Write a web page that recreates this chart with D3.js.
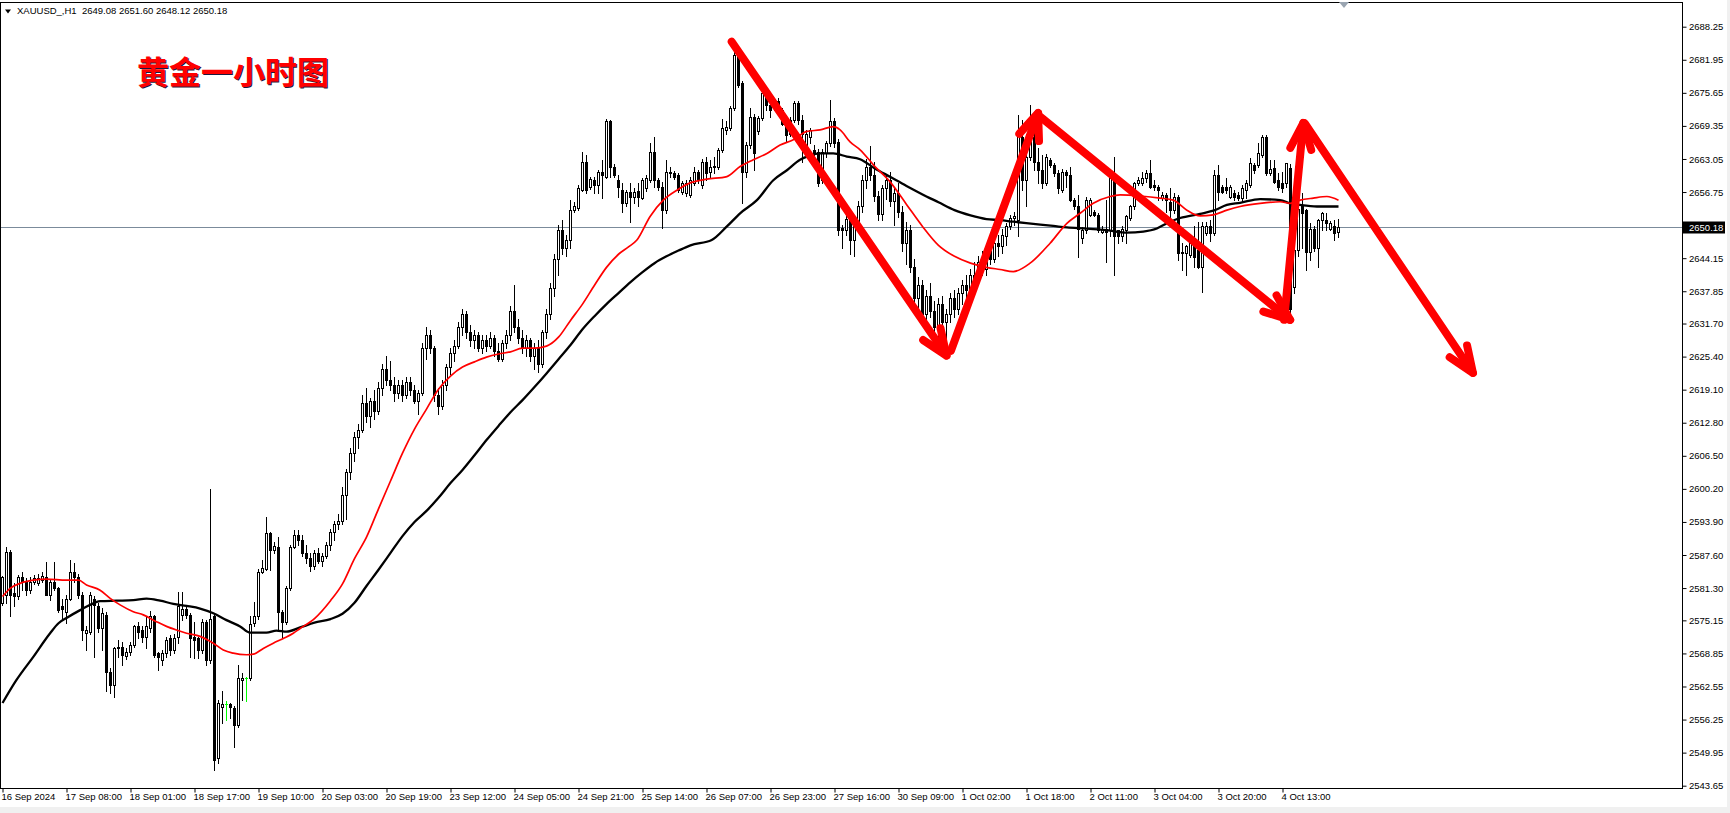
<!DOCTYPE html>
<html><head><meta charset="utf-8">
<script src="https://cdn.jsdelivr.net/npm/d3@7"></script>
<style>
html,body{margin:0;padding:0;background:#fff;overflow:hidden}
svg{display:block}
text{font-family:"Liberation Sans",Arial,sans-serif}
</style></head><body>
<svg id="chart" width="1730" height="813"></svg>
<script>
// ---------------- DATA ----------------
const symbolInfo = "XAUUSD_,H1";
const lastQuote = [2649.08, 2651.60, 2648.12, 2650.18];
const chartTitle = "黄金一小时图";
// [open, high, low, close] per H1 bar
const ohlc = [
[2578.4,2583.6,2578.0,2583.5],[2580.0,2589.2,2578.4,2588.2],[2588.2,2588.6,2575.9,2580.0],[2580.3,2582.2,2577.8,2579.7],
[2579.7,2583.8,2579.3,2583.5],[2583.5,2584.4,2580.9,2582.5],[2582.5,2583.2,2580.0,2580.9],[2580.9,2583.5,2580.3,2582.5],
[2582.5,2583.8,2582.0,2583.2],[2582.2,2584.0,2581.9,2583.2],[2582.8,2584.4,2582.5,2583.6],[2583.5,2586.3,2579.9,2580.0],
[2580.0,2583.0,2579.0,2582.5],[2582.5,2586.3,2580.9,2581.3],[2581.3,2581.6,2576.8,2577.1],[2577.8,2579.3,2575.2,2577.4],
[2576.8,2580.0,2574.6,2579.3],[2579.3,2586.6,2579.0,2584.4],[2584.4,2586.0,2582.5,2583.5],[2583.5,2584.0,2579.5,2580.0],
[2580.0,2580.5,2571.4,2573.3],[2572.7,2574.0,2569.5,2573.3],[2573.0,2580.5,2572.5,2580.0],[2579.3,2579.7,2568.2,2578.1],
[2577.8,2578.5,2572.9,2573.6],[2573.6,2577.5,2569.5,2576.5],[2576.2,2576.8,2561.6,2565.4],[2565.4,2566.0,2561.3,2562.8],
[2562.8,2570.1,2560.6,2569.8],[2570.1,2571.4,2568.2,2569.8],[2570.1,2571.1,2566.6,2568.5],[2568.4,2569.8,2567.8,2569.2],
[2569.2,2571.1,2568.5,2570.5],[2570.5,2574.3,2570.1,2574.1],[2574.0,2574.9,2571.7,2573.0],[2573.3,2574.0,2571.0,2572.0],
[2572.0,2575.9,2569.8,2574.0],[2573.6,2577.0,2573.0,2575.9],[2575.9,2576.2,2568.2,2568.6],[2568.9,2569.2,2565.7,2568.2],
[2567.6,2569.5,2566.6,2568.9],[2568.9,2572.0,2568.2,2571.4],[2571.7,2572.3,2568.5,2569.5],[2569.5,2572.5,2568.9,2571.7],
[2572.0,2580.6,2570.8,2577.8],[2576.2,2580.6,2575.2,2577.4],[2577.4,2578.0,2575.6,2576.2],[2576.2,2576.5,2568.2,2571.7],
[2572.0,2574.9,2567.9,2571.4],[2571.7,2572.0,2567.9,2569.5],[2569.5,2575.5,2569.0,2574.9],[2574.9,2575.2,2566.6,2567.6],
[2567.6,2600.2,2567.0,2575.5],[2575.9,2576.5,2546.6,2548.6],[2548.9,2560.0,2548.0,2559.4],[2558.7,2561.6,2555.5,2559.2],
[2559.3,2559.7,2556.2,2559.3],[2559.2,2559.4,2556.5,2558.6],[2558.4,2558.8,2551.1,2555.2],[2555.2,2566.7,2554.8,2564.1],
[2563.8,2565.1,2560.0,2564.2],[2564.1,2564.3,2559.7,2564.1],[2564.1,2575.9,2563.8,2574.5],[2574.6,2578.7,2574.0,2575.9],
[2575.9,2585.0,2575.5,2584.4],[2584.4,2586.7,2584.1,2585.1],[2585.0,2594.9,2584.7,2591.7],[2591.7,2592.0,2584.8,2588.6],
[2588.6,2590.0,2588.0,2589.3],[2589.2,2591.1,2573.3,2576.8],[2576.8,2577.2,2571.7,2574.9],[2574.9,2581.7,2574.5,2581.3],
[2581.3,2589.6,2580.9,2589.2],[2589.2,2592.4,2588.9,2591.4],[2591.4,2592.4,2589.5,2590.5],
[2590.5,2591.5,2587.5,2588.0],[2588.0,2589.5,2586.0,2587.0],[2587.0,2588.0,2584.5,2585.5],[2585.5,2588.5,2585.0,2588.0],
[2588.0,2589.0,2586.0,2586.5],[2586.5,2588.0,2585.5,2587.5],[2587.5,2590.0,2587.0,2589.5],[2589.5,2592.5,2588.5,2592.0],
[2592.0,2594.0,2590.5,2593.5],[2593.5,2595.5,2592.5,2594.0],[2594.0,2600.5,2593.5,2599.0],[2599.0,2604.0,2594.5,2603.5],
[2603.5,2608.0,2602.0,2607.0],[2607.0,2611.0,2605.5,2610.0],[2610.0,2612.5,2608.0,2611.5],[2611.5,2618.0,2611.0,2616.5],
[2616.5,2619.5,2613.0,2614.0],[2614.0,2617.5,2612.0,2617.0],[2617.0,2619.0,2613.5,2615.0],[2615.0,2620.5,2614.5,2619.5],
[2619.5,2624.0,2618.0,2623.0],[2623.0,2625.5,2620.0,2621.0],[2621.0,2624.5,2619.0,2620.0],[2620.0,2621.5,2617.0,2618.5],
[2618.5,2621.0,2617.5,2620.0],[2620.0,2621.0,2617.0,2618.0],[2618.0,2621.5,2617.5,2620.5],[2620.5,2621.5,2618.0,2619.0],
[2619.0,2620.0,2616.5,2617.0],[2617.0,2619.0,2614.5,2618.5],[2618.5,2628.0,2618.0,2627.0],[2627.0,2631.0,2625.0,2629.5],
[2629.5,2630.5,2626.0,2627.0],[2627.0,2627.5,2617.0,2618.0],[2618.0,2619.5,2614.5,2616.0],[2616.0,2621.0,2615.5,2620.0],
[2620.0,2624.0,2619.0,2623.5],[2623.5,2627.0,2622.0,2626.0],[2626.0,2628.5,2624.5,2627.5],[2627.5,2632.0,2627.0,2631.0],
[2631.0,2634.5,2629.5,2633.5],[2633.5,2634.0,2629.0,2630.0],[2630.0,2631.5,2627.5,2628.5],[2628.5,2630.5,2627.0,2629.5],
[2629.5,2630.0,2626.5,2627.0],[2627.0,2629.5,2626.0,2628.5],[2628.5,2629.5,2626.5,2627.5],[2627.5,2630.0,2627.0,2629.0],
[2629.0,2629.5,2625.5,2626.5],[2626.5,2628.0,2624.5,2625.0],[2625.0,2628.5,2624.5,2628.0],[2628.0,2630.5,2627.0,2629.5],
[2629.5,2635.0,2628.5,2634.0],[2634.0,2639.0,2630.0,2631.0],[2631.0,2632.5,2628.0,2629.0],[2629.0,2630.5,2626.0,2627.0],
[2627.0,2629.5,2625.5,2628.5],[2628.5,2629.0,2624.5,2625.5],[2625.5,2628.0,2623.0,2627.0],[2627.0,2628.5,2622.5,2624.0],
[2624.0,2630.5,2623.5,2630.0],[2630.0,2634.5,2629.0,2633.5],[2633.5,2639.5,2632.5,2638.5],[2638.5,2645.0,2637.0,2644.0],
[2644.0,2650.5,2641.0,2649.5],[2649.5,2651.5,2645.0,2646.0],[2646.0,2648.5,2644.5,2647.6],
[2647.6,2655.2,2646.0,2653.3],[2653.3,2654.9,2653.0,2654.0],[2653.7,2658.0,2653.4,2657.5],[2657.2,2664.4,2656.9,2662.5],
[2662.5,2663.8,2656.5,2657.2],[2657.8,2659.6,2657.4,2659.2],[2659.0,2659.7,2656.5,2658.1],[2658.1,2661.0,2656.5,2660.6],
[2660.6,2662.9,2655.6,2660.0],[2659.7,2670.7,2659.4,2670.2],[2670.2,2670.5,2659.7,2661.6],[2661.6,2662.0,2659.7,2660.0],
[2659.0,2660.0,2655.9,2657.8],[2657.2,2658.4,2653.0,2654.6],[2654.6,2657.2,2654.0,2656.8],[2656.8,2658.4,2651.1,2655.9],
[2655.9,2657.5,2654.6,2656.8],[2657.0,2658.4,2654.0,2655.9],[2655.7,2659.4,2655.4,2659.0],[2657.5,2660.0,2657.0,2659.4],
[2659.0,2666.0,2658.7,2664.4],[2664.4,2667.3,2657.8,2659.0],[2659.0,2659.4,2657.2,2657.8],[2657.8,2658.7,2649.9,2653.3],
[2653.3,2662.9,2652.8,2660.6],[2660.6,2661.6,2659.7,2660.3],[2660.3,2660.8,2659.2,2659.7],[2660.0,2660.3,2656.8,2657.2],
[2656.8,2658.9,2656.3,2658.4],[2656.5,2659.0,2656.0,2658.4],[2656.2,2659.6,2655.8,2659.0],[2658.4,2661.6,2658.0,2660.6],
[2660.6,2661.0,2658.5,2659.0],[2658.1,2663.0,2657.6,2662.5],[2662.5,2663.5,2659.0,2660.3],[2660.6,2662.9,2659.7,2661.6],
[2661.5,2663.5,2660.3,2661.8],[2661.6,2665.1,2661.2,2664.8],[2664.8,2670.6,2664.4,2668.9],[2668.6,2670.2,2667.9,2669.2],
[2668.9,2673.2,2668.5,2672.7],[2672.7,2684.1,2672.3,2682.9],[2682.9,2683.5,2676.8,2677.2],[2677.5,2678.0,2654.6,2660.6],
[2660.6,2666.3,2659.6,2665.7],[2665.7,2672.7,2665.2,2671.1],[2671.1,2671.7,2661.0,2664.1],[2668.3,2671.3,2667.9,2670.8],
[2670.8,2677.8,2670.4,2675.6],[2675.2,2676.2,2672.4,2673.3],[2673.3,2674.3,2671.1,2672.4],[2672.7,2674.6,2672.4,2674.0],
[2674.0,2674.6,2672.0,2672.4],[2672.4,2672.7,2669.5,2669.8],[2670.5,2670.8,2666.4,2667.6],[2667.9,2671.0,2667.5,2670.5],
[2670.5,2674.0,2670.0,2673.7],[2673.7,2674.0,2669.8,2670.5],[2670.5,2671.4,2662.5,2667.9],[2665.4,2668.5,2664.8,2667.9],
[2667.3,2669.0,2666.0,2668.6],[2664.8,2665.7,2662.2,2664.1],[2664.4,2665.0,2657.9,2658.4],[2659.0,2665.0,2658.5,2664.4],
[2664.1,2666.5,2663.5,2666.0],[2666.0,2674.3,2665.5,2670.2],[2670.2,2670.8,2665.4,2666.0],[2666.3,2666.8,2648.5,2649.5],
[2649.9,2650.5,2646.0,2649.5],[2649.5,2652.5,2648.5,2651.7],[2651.7,2652.0,2645.0,2647.6],
[2647.6,2651.0,2644.5,2650.5],[2650.5,2655.0,2649.5,2654.0],[2654.0,2660.0,2653.0,2659.0],[2659.0,2663.0,2657.5,2661.5],
[2661.5,2665.5,2659.0,2660.0],[2660.0,2662.5,2655.0,2656.0],[2656.0,2657.0,2651.5,2652.5],[2652.5,2658.0,2651.5,2657.5],
[2657.5,2660.0,2655.5,2659.0],[2659.0,2660.5,2654.0,2655.0],[2655.0,2657.5,2650.5,2656.5],[2656.5,2658.5,2652.0,2653.0],
[2653.0,2654.0,2645.5,2647.0],[2647.0,2651.0,2643.0,2649.5],[2649.5,2650.5,2641.5,2642.5],[2642.5,2644.0,2634.0,2636.5],
[2636.5,2640.5,2634.5,2639.0],[2639.0,2640.0,2632.0,2633.5],[2633.5,2638.0,2631.0,2637.0],[2637.0,2639.5,2633.0,2634.0],
[2634.0,2636.0,2629.5,2631.0],[2631.0,2636.5,2629.0,2635.5],[2635.5,2637.0,2630.5,2632.0],[2632.0,2634.5,2629.0,2633.5],
[2633.5,2637.5,2632.0,2636.5],[2636.5,2638.0,2633.0,2634.5],[2634.5,2638.5,2633.5,2637.5],[2637.5,2640.0,2635.5,2639.0],
[2639.0,2641.0,2636.5,2638.0],[2638.0,2642.0,2637.0,2641.0],[2641.0,2643.5,2639.0,2640.0],[2640.0,2644.5,2639.0,2643.5],
[2643.5,2645.5,2641.0,2642.0],[2642.0,2646.5,2641.0,2645.5],[2645.5,2647.0,2643.0,2644.0],[2644.0,2648.0,2643.5,2647.0],
[2647.0,2648.5,2644.5,2646.5],
[2646.4,2649.8,2645.1,2648.6],[2648.3,2650.8,2646.7,2650.2],[2650.2,2652.4,2649.8,2651.8],[2651.8,2653.0,2650.5,2652.1],
[2651.4,2671.4,2648.3,2668.3],[2667.3,2670.5,2657.1,2659.0],[2659.0,2667.9,2654.0,2663.5],[2663.5,2673.3,2662.9,2667.9],
[2667.3,2670.8,2660.9,2662.5],[2662.5,2665.1,2658.4,2660.9],[2660.9,2663.8,2657.5,2658.4],[2658.4,2664.0,2658.0,2663.5],
[2662.9,2663.2,2661.6,2661.9],[2661.9,2662.2,2659.8,2660.3],[2660.3,2660.9,2656.5,2657.5],[2657.1,2661.2,2656.8,2660.6],
[2660.6,2660.9,2657.8,2660.0],[2660.0,2661.6,2655.0,2655.2],[2655.2,2655.6,2653.5,2654.0],[2654.0,2656.2,2644.4,2649.8],
[2647.9,2650.0,2647.0,2649.5],[2649.5,2655.8,2649.0,2655.2],[2652.4,2655.6,2652.1,2655.2],[2653.0,2653.3,2652.1,2652.4],
[2652.4,2652.7,2649.2,2649.5],[2649.2,2650.2,2648.9,2649.8],[2649.8,2655.2,2643.5,2649.2],[2649.5,2659.6,2648.3,2659.4],
[2659.0,2663.5,2640.9,2648.3],[2649.5,2649.6,2647.0,2648.3],[2648.3,2650.2,2647.5,2649.8],[2649.5,2652.4,2647.0,2652.1],
[2651.8,2654.3,2651.4,2654.0],[2654.0,2658.7,2653.5,2658.4],[2658.4,2659.6,2658.0,2659.0],[2658.4,2660.6,2658.1,2659.4],
[2659.4,2660.9,2658.7,2660.3],[2660.3,2662.9,2657.6,2657.8],[2658.1,2659.0,2657.1,2657.8],[2657.8,2658.1,2655.2,2657.1],
[2655.6,2656.8,2655.2,2656.2],[2656.2,2656.5,2653.0,2655.2],[2654.9,2657.5,2650.8,2653.3],[2653.3,2656.5,2652.7,2655.9],
[2655.9,2656.2,2643.8,2645.1],[2645.4,2647.0,2641.9,2645.1],[2645.1,2646.7,2640.9,2646.4],[2644.8,2647.5,2644.4,2647.0],
[2647.0,2650.2,2642.5,2644.4],[2645.7,2651.1,2642.2,2642.5],[2642.5,2651.1,2637.8,2650.2],[2648.9,2651.0,2648.5,2650.2],
[2650.2,2651.5,2647.5,2649.0],[2648.9,2661.0,2648.5,2660.0],[2660.0,2661.9,2655.2,2656.8],[2657.8,2658.1,2656.5,2656.8],
[2657.8,2659.4,2656.5,2657.1],[2655.9,2658.1,2655.6,2657.8],[2656.5,2657.1,2655.2,2655.9],[2656.2,2656.8,2655.2,2655.6],
[2655.6,2658.0,2655.0,2657.5],[2657.2,2659.0,2655.6,2658.4],[2658.1,2663.2,2657.8,2662.2],[2661.9,2662.2,2660.3,2661.0],
[2661.9,2666.0,2661.5,2664.1],[2663.8,2667.7,2663.5,2667.3],[2667.3,2667.6,2660.0,2660.3],[2660.3,2662.9,2660.0,2661.1],
[2661.3,2662.9,2658.5,2658.7],[2659.0,2660.3,2657.2,2657.8],[2658.4,2660.6,2656.8,2657.5],[2658.4,2662.3,2657.8,2662.2],
[2661.3,2662.0,2632.5,2634.5],[2638.7,2646.5,2637.5,2645.7],[2645.7,2655.0,2644.5,2653.5],[2654.3,2656.5,2646.0,2652.7],
[2653.3,2653.5,2641.9,2645.4],[2645.4,2650.8,2643.8,2649.8],[2649.8,2650.2,2645.5,2646.0],[2646.0,2651.7,2642.5,2651.4],
[2651.4,2653.0,2649.5,2652.7],[2651.4,2652.7,2649.5,2650.8],[2649.8,2651.2,2649.5,2650.8],[2650.2,2651.4,2647.6,2648.9],
[2649.08,2651.60,2648.12,2650.18]
];
// moving averages: [bar index, price]
const maRed = [
[0,2579.7],[2,2581.3],[4.4,2582.2],[7.7,2582.8],[11,2583.0],[16,2582.8],[19,2582.8],[21,2581.9],[24.4,2580.9],[27,2579.3],
[29.4,2578.1],[32.7,2576.8],[35.2,2576.2],[38.5,2574.9],[41,2574.0],[43.5,2573.3],[46,2572.7],[49.4,2572.1],[52.7,2570.8],
[55.2,2569.5],[57.7,2568.9],[61,2568.6],[62.7,2568.7],[65.2,2569.8],[67.7,2570.8],[70.2,2571.7],[72.7,2572.7],[74.4,2573.6],
[78,2575.5],[82,2578.9],[85,2582.1],[88,2586.9],[91,2591.0],[94,2596.4],[97,2601.7],[100,2607.0],[103,2611.6],[106,2615.4],
[109,2619.2],[112,2621.7],[115,2623.4],[118,2624.4],[121,2625.3],[124,2625.9],[127,2626.3],[130,2627.0],[133,2627.0],
[136,2627.4],[139,2629.1],[142,2632.3],[145,2635.4],[148,2639.0],[151,2642.4],[154,2644.9],[156.5,2646.3],[158.6,2647.6],
[161.9,2652.1],[165.2,2655.2],[168.6,2657.1],[171.9,2658.5],[176.1,2659.2],[181.1,2659.7],[184.4,2661.6],[187.7,2662.9],
[191.1,2664.1],[194.4,2665.7],[197.7,2666.7],[201.1,2668.3],[204.4,2668.6],[207.7,2669.2],[209.4,2668.6],[211.9,2666.3],
[214.4,2664.8],[218,2661.7],[222,2658.6],[226,2654.4],[230,2650.2],[234,2646.6],[238,2644.5],[242,2643.2],[246,2642.4],
[249.4,2642.0],[252.7,2641.6],[256.9,2643.2],[261.9,2647.0],[266.1,2650.8],[269.4,2652.7],[272.7,2654.6],[276.9,2655.9],
[279.4,2656.2],[284.4,2656.0],[289.4,2655.6],[292.7,2655.2],[296.1,2653.3],[299.4,2652.2],[302.7,2652.4],[306.1,2653.3],
[309.4,2654.0],[314.4,2654.6],[319.4,2654.9],[321.9,2654.6],[324.4,2655.2],[327.7,2655.6],[331.1,2655.9],[334,2655.2]
];
const maBlack = [
[0,2559.4],[3.5,2563.8],[7.7,2568.2],[11.9,2572.7],[14,2574.6],[16,2575.6],[19.4,2577.1],[21.9,2578.1],[24.4,2578.8],
[28.5,2578.9],[32.7,2579.0],[36,2579.3],[39.4,2578.9],[42.7,2578.3],[46,2577.9],[49.4,2577.4],[52.7,2576.5],[56,2575.2],
[59.4,2574.0],[61.9,2572.8],[66,2572.8],[68.5,2573.2],[71,2573.0],[74.4,2573.8],[78,2574.7],[82,2575.4],[85,2576.4],
[88,2578.5],[91,2581.7],[94,2584.8],[97,2588.0],[100,2591.2],[103,2593.9],[106,2596.0],[109,2598.5],[112,2601.3],
[115,2603.8],[118,2606.6],[121,2609.5],[124,2612.2],[127,2614.8],[130,2617.1],[133,2619.6],[136,2622.2],[139,2624.9],
[142,2627.6],[145,2630.6],[148,2633.1],[151,2635.4],[154,2637.5],[157,2639.6],[160,2641.5],[163,2643.2],[166,2644.5],
[169,2645.6],[172,2646.6],[177.3,2647.6],[181.1,2650.2],[184.4,2652.7],[188.6,2655.2],[192.7,2659.0],[196.1,2660.9],
[199.4,2662.9],[201.1,2663.5],[204.4,2664.1],[207.7,2664.1],[211.1,2663.5],[214.4,2663.0],[218,2661.3],[222,2659.6],
[226,2657.9],[230,2656.3],[234,2654.8],[238,2653.3],[242,2652.3],[246,2651.6],[249.4,2651.4],[252.7,2651.1],[257.7,2650.7],
[262.7,2650.3],[266.1,2650.0],[271.1,2649.8],[276.1,2649.5],[281.1,2649.0],[285.2,2649.2],[288.6,2649.8],[291.1,2650.8],
[294.4,2651.8],[299.4,2652.6],[302.7,2653.2],[306.1,2654.3],[309.4,2654.7],[314.4,2655.4],[319.4,2655.2],[321.9,2654.6],
[324.4,2654.3],[328.6,2654.0],[334,2654.0]
];
const yTicks = [2688.25,2681.95,2675.65,2669.35,2663.05,2656.75,2644.15,2637.85,2631.70,2625.40,2619.10,2612.80,
  2606.50,2600.20,2593.90,2587.60,2581.30,2575.15,2568.85,2562.55,2556.25,2549.95,2543.65];
const xTickLabels = ["16 Sep 2024","17 Sep 08:00","18 Sep 01:00","18 Sep 17:00","19 Sep 10:00","20 Sep 03:00",
  "20 Sep 19:00","23 Sep 12:00","24 Sep 05:00","24 Sep 21:00","25 Sep 14:00","26 Sep 07:00","26 Sep 23:00",
  "27 Sep 16:00","30 Sep 09:00","1 Oct 02:00","1 Oct 18:00","2 Oct 11:00","3 Oct 04:00","3 Oct 20:00","4 Oct 13:00"];
const barsPerLabel = 16;
// hand-drawn arrows: [bar, price] -> [bar, price]
const arrows = [
  [[182.3,2685.4],[236.0,2625.6]],
  [[237.1,2626.5],[258.9,2671.8]],
  [[259.4,2671.1],[321.9,2632.4]],
  [[320.4,2632.4],[325.2,2669.9]],
  [[325.6,2669.8],[367.6,2622.3]]
];

// ---------------- DRAW ----------------
const W = 1730, H = 813;
const PL = 0.5, PT = 2.5, PR = 1682.5, PB = 788.5;
const svg = d3.select("#chart");
svg.append("rect").attr("width", W).attr("height", H).attr("fill", "#fff");
svg.append("rect").attr("x", 0).attr("y", 807).attr("width", W).attr("height", H - 807).attr("fill", "#f0f0f0");
svg.append("rect").attr("x", 1727).attr("y", 0).attr("width", W - 1727).attr("height", H).attr("fill", "#f0f0f0");

const x = d3.scaleLinear().domain([0, 1]).range([2.5, 6.5]);
const y = d3.scaleLinear().domain([2543.65, 2688.25]).range([785.7, 26.7]);
const yr = v => Math.round(y(v)) + 0.5;

svg.append("defs").append("clipPath").attr("id", "clip")
  .append("rect").attr("x", PL).attr("y", PT).attr("width", PR - PL).attr("height", PB - PT);
const g = svg.append("g").attr("clip-path", "url(#clip)");

// current price line
const lastC = lastQuote[3];
g.append("line").attr("x1", 0).attr("x2", PR).attr("y1", yr(lastC)).attr("y2", yr(lastC))
  .attr("stroke", "#7b8b9b").attr("stroke-width", 1);

// candles
const cg = g.append("g");
ohlc.forEach((d, i) => {
  const [o, h, l, c] = d;
  const cx = x(i);
  const doji = o === c;
  const col = doji ? "#00ff00" : "#000";
  cg.append("line").attr("x1", cx).attr("x2", cx).attr("y1", yr(h) - 0.5).attr("y2", yr(l) + 0.5)
    .attr("stroke", col).attr("stroke-width", 1);
  if (doji) {
    cg.append("line").attr("x1", cx - 1.5).attr("x2", cx + 1.5).attr("y1", yr(o)).attr("y2", yr(o))
      .attr("stroke", col).attr("stroke-width", 1);
  } else {
    const top = yr(Math.max(o, c)), bot = yr(Math.min(o, c));
    cg.append("rect").attr("x", cx - 1).attr("y", top).attr("width", 2).attr("height", Math.max(0, bot - top))
      .attr("fill", c > o ? "#fff" : "#000").attr("stroke", "#000").attr("stroke-width", 1);
  }
});

// moving averages
const line = d3.line().x(d => x(d[0])).y(d => y(d[1])).curve(d3.curveMonotoneX);
g.append("path").attr("d", line(maBlack)).attr("fill", "none").attr("stroke", "#000").attr("stroke-width", 2.3);
g.append("path").attr("d", line(maRed)).attr("fill", "none").attr("stroke", "#ff0000").attr("stroke-width", 1.7);

// arrows
const ag = g.append("g").attr("stroke", "#ff0000").attr("stroke-width", 8).attr("fill", "none")
  .attr("stroke-linecap", "round").attr("stroke-linejoin", "round");
arrows.forEach(([s, e]) => {
  const x1 = x(s[0]), y1 = y(s[1]), x2 = x(e[0]), y2 = y(e[1]);
  const ang = Math.atan2(y1 - y2, x1 - x2);
  const L = 28, a = 22 * Math.PI / 180;
  const p1 = [x2 + L * Math.cos(ang + a), y2 + L * Math.sin(ang + a)];
  const p2 = [x2 + L * Math.cos(ang - a), y2 + L * Math.sin(ang - a)];
  ag.append("path").attr("d", `M${x1},${y1}L${x2},${y2}`);
  ag.append("path").attr("d", `M${p1[0]},${p1[1]}L${x2},${y2}L${p2[0]},${p2[1]}`);
});

// frame
svg.append("rect").attr("x", PL).attr("y", PT).attr("width", PR - PL).attr("height", PB - PT)
  .attr("fill", "none").attr("stroke", "#000").attr("stroke-width", 1);

// y axis
const yAxis = d3.axisRight(y).tickValues(yTicks).tickFormat(d3.format(".2f")).tickSize(4).tickSizeOuter(0);
const ya = svg.append("g").attr("transform", `translate(${PR},0)`).call(yAxis);
ya.select(".domain").remove();
ya.selectAll("line").attr("stroke", "#000");
ya.selectAll("text").attr("x", 6.5).attr("fill", "#000").style("font-size", "9.5px")
  .style("font-family", "'Liberation Sans', Arial, sans-serif");

// current price label
svg.append("rect").attr("x", PR + 0.5).attr("y", yr(lastC) - 6).attr("width", 42).attr("height", 12).attr("fill", "#000");
svg.append("text").attr("x", PR + 6.5).attr("y", yr(lastC)).attr("dy", "0.34em").attr("fill", "#fff")
  .style("font-size", "9.5px").text(d3.format(".2f")(lastC));

// x axis
const xIdx = xTickLabels.map((_, i) => i * barsPerLabel);
const xAxis = d3.axisBottom(x).tickValues(xIdx).tickFormat((d, i) => xTickLabels[i]).tickSize(4).tickSizeOuter(0);
const xa = svg.append("g").attr("transform", `translate(0,${PB})`).call(xAxis);
xa.select(".domain").remove();
xa.selectAll("line").attr("stroke", "#000");
xa.selectAll("text").attr("text-anchor", "start").attr("x", -1.5).attr("y", 5).attr("fill", "#000")
  .style("font-size", "9.5px").style("font-family", "'Liberation Sans', Arial, sans-serif");

// header
svg.append("path").attr("d", "M5,9.5L11,9.5L8,13.5Z").attr("fill", "#000");
svg.append("text").attr("x", 17).attr("y", 14).style("font-size", "9.5px").style("white-space", "pre")
  .attr("fill", "#000").text(symbolInfo + "  " + lastQuote.map(d3.format(".2f")).join(" "));

// chart shift marker
svg.append("path").attr("d", "M1339,2L1349,2L1344,8Z").attr("fill", "#9aa5b1");

// title (red with a thin dark shadow)
const tf = "'Noto Sans CJK SC', 'Noto Sans CJK JP', sans-serif";
svg.append("text").attr("x", 138).attr("y", 85).style("font-family", tf).style("font-weight", 700)
  .style("font-size", "32px").attr("fill", "#1a1a40").text(chartTitle);
svg.append("text").attr("x", 137).attr("y", 84).style("font-family", tf).style("font-weight", 700)
  .style("font-size", "32px").attr("fill", "#ff0000").text(chartTitle);
</script>
</body></html>
